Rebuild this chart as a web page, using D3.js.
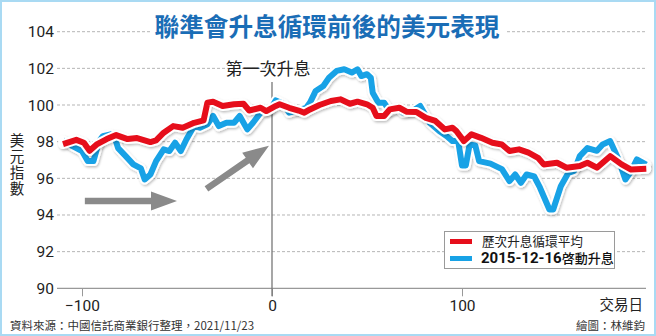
<!DOCTYPE html>
<html><head><meta charset="utf-8">
<script src="https://cdn.jsdelivr.net/npm/d3@7/dist/d3.min.js"></script>
<style>
html,body{margin:0;padding:0;background:#fff;}
svg{display:block;}
</style></head>
<body>
<svg id="chart" width="656" height="336"></svg>
<script>
// ---- data ----
const titleText = "聯準會升息循環前後的美元表現";
const xTicks = [-100, 0, 100];
const yTicks = [90, 92, 94, 96, 98, 100, 102, 104];
const seriesNames = ["歷次升息循環平均", "2015-12-16啓動升息"];

const avgDays = [-110,-103,-99,-96,-92,-87,-82,-76,-71,-64,-61,-57,-52,-47,-41,-36,-34,-31,-26,-20,-15,-12,-6,-3,2,4,9,14,17,20,25,31,36,41,45,50,53,55,59,62,67,71,76,81,86,91,95,97,101,105,110,116,121,125,130,135,140,143,150,155,162,166,171,178,184,189,197];
const avgValues = [97.87,98.1,97.94,97.5,97.87,98.14,98.36,98.14,98.2,97.98,98.07,98.49,98.85,98.76,99.03,99.16,100.13,100.18,99.95,100.04,100.07,99.7,99.85,99.67,99.95,100.04,99.85,99.7,99.58,99.76,100.0,100.22,100.31,100.07,100.18,100.04,99.85,99.4,99.4,99.76,99.85,99.63,99.62,99.3,99.13,98.67,98.76,98.58,98.03,98.4,98.21,97.94,97.85,97.49,97.58,97.4,97.12,96.76,96.85,96.58,96.67,96.85,96.58,97.21,96.76,96.48,96.52];

const usdDays = [-110,-105,-100,-97,-94,-91,-89,-85,-83,-81,-77,-73,-69,-67,-64,-61,-57,-54,-51,-48,-45,-41,-38,-34,-31,-28,-24,-20,-17,-13,-10,-6,-1,2,6,9,13,18,20,23,27,30,34,38,42,45,47,50,52,53,56,59,62,66,69,74,78,83,88,92,95,98,100,102,104,107,109,115,121,125,128,131,134,138,141,146,148,152,156,159,162,166,171,174,178,182,186,189,192,197];
const usdValues = [98.07,97.76,97.49,96.94,96.94,98.03,98.3,98.4,98.3,97.65,97.21,96.76,96.54,95.94,96.21,96.94,97.58,97.49,97.94,97.49,98.13,98.85,98.76,98.95,99.4,98.85,99.03,99.03,99.4,98.67,99.03,99.58,99.76,100.25,100.07,99.58,99.7,99.85,100.13,100.77,101.04,101.49,101.86,101.95,101.77,101.95,101.58,101.68,101.49,100.67,100.13,100.13,99.67,99.85,99.58,99.67,99.95,99.03,98.58,98.3,98.03,98.03,96.7,96.7,97.85,97.8,96.94,96.8,96.5,95.85,96.21,95.76,96.21,96.1,95.5,94.3,94.3,95.57,96.3,96.4,97.21,97.65,97.5,97.85,98.03,97.12,95.94,96.39,97.03,96.75];

const arrowStarts = [[-98.5, 94.76], [-34.5, 95.42]];
const arrowEnds = [[-50, 94.76], [-1.6, 97.78]];
const eventDay = 0;
const eventLabel = "第一次升息";

// ---- drawing ----
const svg = d3.select("#chart");
const W = 656, H = 336;
const cjk = "'Noto Sans CJK TC','Noto Sans CJK SC',sans-serif";
const num = "Roboto,'Liberation Sans',sans-serif";

const x = d3.scaleLinear().domain([-100, 100]).range([82, 462]);
const y = d3.scaleLinear().domain([90, 104]).range([288.3, 31.7]);

const defs = svg.append("defs");
const f = defs.append("filter").attr("id", "sh").attr("x", "-5%").attr("y", "-10%").attr("width", "110%").attr("height", "130%");
f.append("feDropShadow").attr("dx", 1).attr("dy", 1.5).attr("stdDeviation", 1).attr("flood-color", "#000").attr("flood-opacity", 0.25);

svg.append("rect").attr("x", 0).attr("y", 0).attr("width", W).attr("height", H).attr("fill", "#fff");

// gridlines
const grid = svg.append("g");
yTicks.filter(v => v > 90).forEach(v => {
  grid.append("line").attr("x1", 57).attr("x2", 645).attr("y1", y(v)).attr("y2", y(v))
    .attr("stroke", "#b5b5b5").attr("stroke-width", 1).attr("stroke-dasharray", "3,2");
});

// y labels
svg.append("g").selectAll("text").data(yTicks).join("text")
  .attr("x", 54).attr("y", d => y(d) + 5.5).attr("text-anchor", "end")
  .attr("font-family", num).attr("font-size", 15.5).attr("fill", "#222").text(d => d);

// y title vertical
svg.append("text").attr("x", 17).attr("y", 133)
  .style("writing-mode", "vertical-rl").attr("letter-spacing", 1.5)
  .attr("font-family", cjk).attr("font-size", 14.5).attr("fill", "#222").text("美元指數");

// x axis
const xa = svg.append("g").attr("transform", `translate(0,${y(90)})`)
  .call(d3.axisBottom(x).tickValues(xTicks).tickSize(8).tickPadding(2).tickFormat(d3.format("d")));
xa.select(".domain").remove();
xa.selectAll(".tick line").attr("stroke", "#999");
xa.selectAll(".tick text").attr("font-family", num).attr("font-size", 15.5).attr("fill", "#222").attr("dy", "0.8em");
svg.append("line").attr("x1", 57).attr("x2", 646).attr("y1", y(90)).attr("y2", y(90)).attr("stroke", "#999").attr("stroke-width", 1.2);

svg.append("text").attr("x", 643).attr("y", 310).attr("text-anchor", "end")
  .attr("font-family", cjk).attr("font-size", 14.5).attr("fill", "#222").text("交易日");

// event line
svg.append("line").attr("x1", x(eventDay)).attr("x2", x(eventDay)).attr("y1", 82).attr("y2", y(90) + 8)
  .attr("stroke", "#777").attr("stroke-width", 1.3);
svg.append("text").attr("x", x(eventDay) - 4).attr("y", 75).attr("text-anchor", "middle")
  .attr("font-family", cjk).attr("font-size", 17).attr("fill", "#222").text(eventLabel);

// arrows
const ag = svg.append("g").attr("fill", "#8a8a8a");
arrowStarts.forEach((s, i) => {
  const e = arrowEnds[i];
  const x1 = x(s[0]), y1 = y(s[1]), x2 = x(e[0]), y2 = y(e[1]);
  const ang = Math.atan2(y2 - y1, x2 - x1);
  const len = Math.hypot(x2 - x1, y2 - y1);
  const hl = 26, hw = 9.5, sw = 3.2;
  const pts = [[0, -sw], [len - hl, -sw], [len - hl, -hw], [len, 0], [len - hl, hw], [len - hl, sw], [0, sw]];
  ag.append("polygon").attr("points", pts.map(p => p.join(",")).join(" "))
    .attr("transform", `translate(${x1},${y1}) rotate(${ang * 180 / Math.PI})`);
});

// lines
const line = d3.line().x(d => x(d[0])).y(d => y(d[1])).curve(d3.curveLinear);
const usd = usdDays.map((d, i) => [d, usdValues[i]]);
const avg = avgDays.map((d, i) => [d, avgValues[i]]);
const colors = ["#e60e1b", "#18a2e6"];
[[usd, colors[1]], [avg, colors[0]]].forEach(([data, c]) => {
  const g = svg.append("g");
  g.append("path").datum(data).attr("d", line).attr("fill", "none").attr("stroke", "#fff")
    .attr("stroke-width", 10).attr("stroke-linejoin", "round").attr("stroke-linecap", "round").attr("filter", "url(#sh)");
  g.append("path").datum(data).attr("d", line).attr("fill", "none").attr("stroke", c)
    .attr("stroke-width", 6).attr("stroke-linejoin", "round").attr("stroke-linecap", "butt");
});

// title
svg.append("rect").attr("x", 150).attr("y", 14).attr("width", 356).attr("height", 32).attr("fill", "#fff");
svg.append("text").attr("x", 327).attr("y", 36).attr("text-anchor", "middle")
  .attr("font-family", cjk).attr("font-weight", 700).attr("font-size", 25).attr("fill", "#1a6db6")
  .attr("textLength", 345).attr("lengthAdjust", "spacingAndGlyphs").text(titleText);

// legend
const lg = svg.append("g");
lg.append("rect").attr("x", 444.5).attr("y", 231.5).attr("width", 170).attr("height", 37)
  .attr("fill", "#fff").attr("stroke", "#9a9a9a").attr("stroke-width", 1);
lg.append("rect").attr("x", 450).attr("y", 239).attr("width", 22).attr("height", 5).attr("fill", colors[0]);
lg.append("rect").attr("x", 450).attr("y", 256).attr("width", 22).attr("height", 5).attr("fill", colors[1]);
lg.append("text").attr("x", 482).attr("y", 246).attr("font-family", cjk).attr("font-size", 13).attr("fill", "#222")
  .attr("textLength", 101).attr("lengthAdjust", "spacingAndGlyphs").text(seriesNames[0]);
const t2 = lg.append("text").attr("x", 481).attr("y", 263).attr("fill", "#111");
t2.append("tspan").attr("font-family", num).attr("font-weight", 700).attr("font-size", 15).text(seriesNames[1].slice(0, 10));
t2.append("tspan").attr("font-family", cjk).attr("font-weight", 500).attr("font-size", 13).text(seriesNames[1].slice(10));

// footer
svg.append("text").attr("x", 10).attr("y", 330).attr("font-family", cjk).attr("font-size", 11.5).attr("fill", "#333")
  .text("資料來源：中國信託商業銀行整理，2021/11/23");
svg.append("text").attr("x", 645).attr("y", 330).attr("text-anchor", "end").attr("font-family", cjk).attr("font-size", 11.5).attr("fill", "#333")
  .text("繪圖：林維鈞");

// frame
svg.append("rect").attr("x", 1).attr("y", 1).attr("width", W - 2).attr("height", H - 2)
  .attr("fill", "none").attr("stroke", "#a9daf3").attr("stroke-width", 2);
</script>
</body></html>
